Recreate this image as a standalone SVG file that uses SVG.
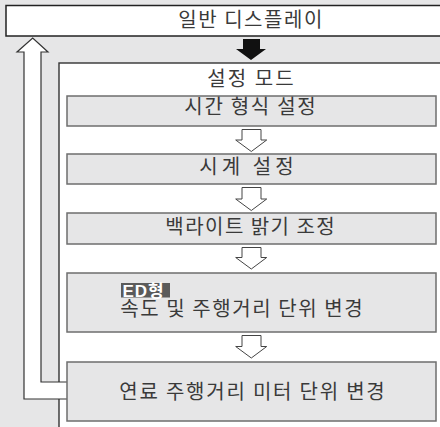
<svg xmlns="http://www.w3.org/2000/svg" width="440" height="427" viewBox="0 0 440 427">
<style>
.bg{fill:#e6e6e7}
.lbl{font-family:"Noto Sans CJK KR","Noto Sans",sans-serif;font-size:20px;fill:#3a3a3a;text-anchor:middle}
.step{fill:#e6e6e7;stroke:#6e6e6e;stroke-width:1.5}
.hollow{fill:#ffffff;stroke:#444;stroke-width:1}
.tag{font-family:"Liberation Sans","Noto Sans CJK KR",sans-serif;font-size:17px;font-weight:bold;fill:#ffffff;letter-spacing:1px}
</style>
<rect class="bg" x="0" y="0" width="440" height="427"/>
<g id="normal-display">
<rect x="6" y="5.5" width="440" height="30.5" fill="#ffffff" stroke="#222" stroke-width="1.5"/>
<text class="lbl" x="250.3" y="26.5" textLength="144" lengthAdjust="spacing">일반 디스플레이</text>
</g>
<g id="setting-mode">
<rect x="59" y="63" width="400" height="380" fill="#ffffff" stroke="#333" stroke-width="1.4"/>
<text class="lbl" x="250.5" y="86" textLength="86.5" lengthAdjust="spacing">설정 모드</text>
</g>
<g id="connectors">
<path d="M243,39 H260 V49 H266 L251,60 L236,49 H243 Z" fill="#111"/>
<path class="hollow" d="M242,129.5 H261 V140 H266.7 L251.3,151.5 L235.7,140 H242 Z"/>
<path class="hollow" d="M242,187.5 H261 V199 H266.7 L251.3,210.5 L235.7,199 H242 Z"/>
<path class="hollow" d="M242,247.5 H261 V257.5 H266.7 L251.3,269 L235.7,257.5 H242 Z"/>
<path class="hollow" d="M242,335.5 H261 V346.5 H266.7 L251.3,358 L235.7,346.5 H242 Z"/>
<path d="M67,399 H24 V52 H17 L32.7,38 L48,52 H41 V382 H67" fill="#ffffff" stroke="#333" stroke-width="1.2"/>
</g>
<g id="time-format">
<rect class="step" x="67" y="96" width="369" height="30"/>
<text class="lbl" x="250" y="114" textLength="131.5" lengthAdjust="spacing">시간 형식 설정</text>
</g>
<g id="clock-setting">
<rect class="step" x="67" y="154" width="369" height="30"/>
<text class="lbl" x="246.5" y="174" textLength="94.5" lengthAdjust="spacing">시계 설정</text>
</g>
<g id="backlight">
<rect class="step" x="67" y="213" width="369" height="31"/>
<text class="lbl" x="250" y="233.5" textLength="169.5" lengthAdjust="spacing">백라이트 밝기 조정</text>
</g>
<g id="unit-change">
<rect class="step" x="67" y="273" width="369" height="59"/>
<rect x="121" y="283" width="49" height="14.5" fill="#5b5b5b"/>
<text class="tag" x="122.5" y="296.5">ED형</text>
<text class="lbl" x="241.5" y="316.3" textLength="242.5" lengthAdjust="spacing">속도 및 주행거리 단위 변경</text>
</g>
<g id="fuel-meter">
<rect class="step" x="67" y="362" width="369" height="59"/>
<text class="lbl" x="252" y="398.5" textLength="265.5" lengthAdjust="spacing">연료 주행거리 미터 단위 변경</text>
</g>
</svg>
